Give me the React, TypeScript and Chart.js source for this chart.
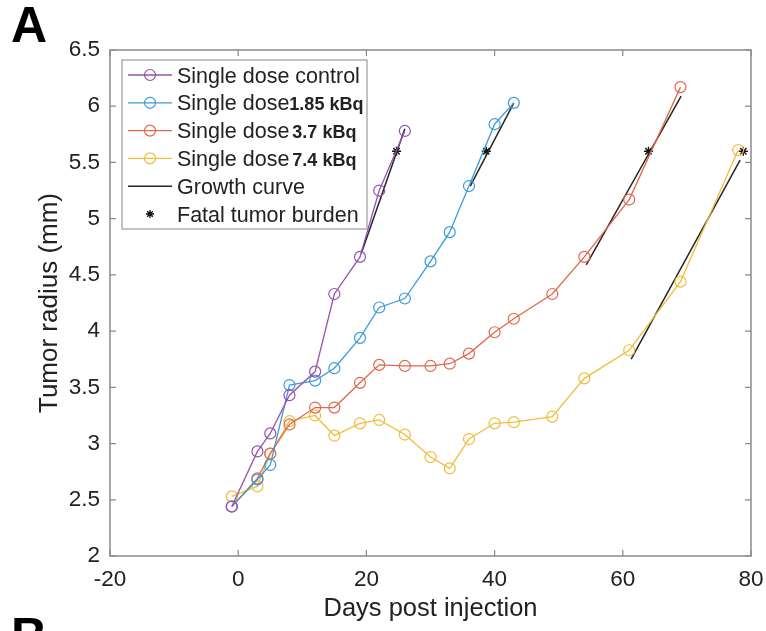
import React, { useEffect, useRef } from 'react';
import { Chart, registerables } from 'chart.js';

Chart.register(...registerables);

const FONT = "'Liberation Sans', Arial, Helvetica, sans-serif";

// ---- data ----
const controlDays = [-1, 3, 5, 8, 12, 15, 19, 22, 26];
const controlRadius = [2.44, 2.93, 3.09, 3.43, 3.64, 4.33, 4.66, 5.25, 5.78];

const dose185Days = [-1, 3, 5, 8, 12, 15, 19, 22, 26, 30, 33, 36, 40, 43];
const dose185Radius = [2.44, 2.68, 2.81, 3.52, 3.56, 3.67, 3.94, 4.21, 4.29, 4.62, 4.88, 5.29, 5.84, 6.03];

const dose37Days = [-1, 3, 5, 8, 12, 15, 19, 22, 26, 30, 33, 36, 40, 43, 49, 54, 61, 69];
const dose37Radius = [2.44, 2.69, 2.91, 3.17, 3.32, 3.32, 3.54, 3.70, 3.69, 3.69, 3.71, 3.80, 3.99, 4.11, 4.33, 4.66, 5.17, 6.17];

const dose74Days = [-1, 3, 5, 8, 12, 15, 19, 22, 26, 30, 33, 36, 40, 43, 49, 54, 61, 69, 78];
const dose74Radius = [2.53, 2.62, 2.91, 3.20, 3.25, 3.07, 3.18, 3.21, 3.08, 2.88, 2.78, 3.04, 3.18, 3.19, 3.24, 3.58, 3.83, 4.44, 5.61];

const growthControlDays = [19.2, 26];
const growthControlRadius = [4.69, 5.80];
const growth185Days = [36.2, 43];
const growth185Radius = [5.29, 6.03];
const growth37Days = [54.3, 69.1];
const growth37Radius = [4.59, 6.09];
const growth74Days = [61.3, 78.3];
const growth74Radius = [3.75, 5.52];

const fatalDays = [24.7, 38.7, 64, 78.8];
const fatalRadius = [5.6, 5.6, 5.6, 5.6];

const xTickValues = [-20, 0, 20, 40, 60, 80];
const yTickValues = [2, 2.5, 3, 3.5, 4, 4.5, 5, 5.5, 6, 6.5];

const seriesLabels = ['Single dose control', 'Single dose', 'Single dose', 'Single dose', 'Growth curve', 'Fatal tumor burden'];
const doseLabels = ['', '1.85 kBq', '3.7 kBq', '7.4 kBq', '', ''];

const COLORS = ['#9552ad', '#3d9ad9', '#e2674a', '#f0be3a'];
const GROWTH_COLOR = '#262626';
const AXIS_COLOR = '#8a8a8a';
const TEXT_COLOR = '#222222';

const toPoints = (xs: number[], ys: number[]) => xs.map((x, i) => ({ x, y: ys[i] }));

const seriesStyle = (color: string) => ({
  borderColor: color,
  backgroundColor: 'transparent',
  pointBackgroundColor: 'transparent',
  pointBorderColor: color,
  pointRadius: 5.5,
  pointBorderWidth: 1.2,
  borderWidth: 1.3,
  tension: 0,
});

const growthStyle = {
  borderColor: GROWTH_COLOR,
  backgroundColor: 'transparent',
  borderWidth: 1.5,
  pointRadius: 0,
  tension: 0,
};

const framePlugin = {
  id: 'matlabFrame',
  afterDraw(chart: any) {
    const { ctx, chartArea, scales } = chart;
    const { left, right, top, bottom } = chartArea;
    const x = scales.x;
    const y = scales.y;
    ctx.save();
    ctx.strokeStyle = AXIS_COLOR;
    ctx.lineWidth = 1.5;
    ctx.strokeRect(left, top, right - left, bottom - top);
    ctx.lineWidth = 1.2;
    const tl = 6;
    ctx.beginPath();
    for (const v of xTickValues) {
      const px = x.getPixelForValue(v);
      ctx.moveTo(px, bottom);
      ctx.lineTo(px, bottom - tl);
      ctx.moveTo(px, top);
      ctx.lineTo(px, top + tl);
    }
    for (const v of yTickValues) {
      const py = y.getPixelForValue(v);
      ctx.moveTo(left, py);
      ctx.lineTo(left + tl, py);
      ctx.moveTo(right, py);
      ctx.lineTo(right - tl, py);
    }
    ctx.stroke();

    // legend box
    const bx = left + 12;
    const by = top + 10;
    const bw = 245;
    const bh = 169;
    ctx.fillStyle = '#ffffff';
    ctx.fillRect(bx, by, bw, bh);
    ctx.strokeStyle = '#9a9a9a';
    ctx.lineWidth = 1.2;
    ctx.strokeRect(bx, by, bw, bh);

    const rowStart = by + 15;
    const rowStep = 27.8;
    for (let i = 0; i < 6; i++) {
      const ry = rowStart + i * rowStep;
      const lx0 = bx + 6;
      const lx1 = bx + 50;
      const mx = bx + 28;
      if (i < 4) {
        ctx.strokeStyle = COLORS[i];
        ctx.lineWidth = 1.3;
        ctx.beginPath();
        ctx.moveTo(lx0, ry);
        ctx.lineTo(lx1, ry);
        ctx.stroke();
        ctx.lineWidth = 1.2;
        ctx.beginPath();
        ctx.arc(mx, ry, 5.5, 0, Math.PI * 2);
        ctx.stroke();
      } else if (i === 4) {
        ctx.strokeStyle = GROWTH_COLOR;
        ctx.lineWidth = 1.5;
        ctx.beginPath();
        ctx.moveTo(lx0, ry);
        ctx.lineTo(lx1, ry);
        ctx.stroke();
      } else {
        ctx.strokeStyle = '#111';
        ctx.lineWidth = 1.3;
        const r = 4;
        ctx.beginPath();
        for (let k = 0; k < 4; k++) {
          const a = (k * Math.PI) / 4;
          ctx.moveTo(mx - r * Math.cos(a), ry - r * Math.sin(a));
          ctx.lineTo(mx + r * Math.cos(a), ry + r * Math.sin(a));
        }
        ctx.stroke();
      }
      const tx = bx + 55;
      const base = ry + 7.5;
      ctx.fillStyle = TEXT_COLOR;
      ctx.textBaseline = 'alphabetic';
      ctx.textAlign = 'left';
      ctx.font = `21.5px ${FONT}`;
      ctx.fillText(seriesLabels[i], tx, base);
      if (doseLabels[i]) {
        const w = ctx.measureText(seriesLabels[i]).width;
        ctx.font = `bold 18px ${FONT}`;
        ctx.fillText(doseLabels[i], tx + w + (i === 1 ? 0 : 3), base);
      }
    }
    ctx.restore();
  },
};

export default function App() {
  const canvasRef = useRef<HTMLCanvasElement | null>(null);

  useEffect(() => {
    if (!canvasRef.current) return;
    const chart = new Chart(canvasRef.current, {
      type: 'line',
      data: {
        datasets: [
          { label: 'Single dose control', data: toPoints(controlDays, controlRadius), ...seriesStyle(COLORS[0]) },
          { label: 'Single dose 1.85 kBq', data: toPoints(dose185Days, dose185Radius), ...seriesStyle(COLORS[1]) },
          { label: 'Single dose 3.7 kBq', data: toPoints(dose37Days, dose37Radius), ...seriesStyle(COLORS[2]) },
          { label: 'Single dose 7.4 kBq', data: toPoints(dose74Days, dose74Radius), ...seriesStyle(COLORS[3]) },
          { label: 'Growth curve', data: toPoints(growthControlDays, growthControlRadius), ...growthStyle },
          { label: 'Growth curve 2', data: toPoints(growth185Days, growth185Radius), ...growthStyle },
          { label: 'Growth curve 3', data: toPoints(growth37Days, growth37Radius), ...growthStyle },
          { label: 'Growth curve 4', data: toPoints(growth74Days, growth74Radius), ...growthStyle },
          {
            label: 'Fatal tumor burden',
            data: toPoints(fatalDays, fatalRadius),
            showLine: false,
            pointStyle: 'star',
            pointRadius: 4.5,
            pointBorderWidth: 1.4,
            pointBorderColor: '#111',
            pointBackgroundColor: '#111',
            borderColor: '#111',
          },
        ] as any,
      },
      options: {
        responsive: false,
        animation: false,
        devicePixelRatio: 1,
        events: [],
        layout: { padding: { left: 0, top: 50, right: 15, bottom: 0 } },
        plugins: { legend: { display: false }, tooltip: { enabled: false }, title: { display: false } },
        scales: {
          x: {
            type: 'linear',
            min: -20,
            max: 80,
            afterBuildTicks: (scale: any) => {
              scale.ticks = xTickValues.map((v) => ({ value: v }));
            },
            afterFit: (scale: any) => {
              scale.height = 75;
              scale.paddingLeft = 0;
              scale.paddingRight = 0;
            },
            grid: { display: false, drawTicks: false },
            border: { display: false },
            ticks: {
              font: { family: FONT, size: 22.5 },
              color: TEXT_COLOR,
              padding: 10,
              maxRotation: 0,
              autoSkip: false,
              callback: (v: any) => String(v),
            },
            title: {
              display: true,
              text: 'Days post injection',
              font: { family: FONT, size: 25.5 },
              color: TEXT_COLOR,
              padding: { top: 0, bottom: 7 },
            },
          },
          y: {
            type: 'linear',
            min: 2,
            max: 6.5,
            afterBuildTicks: (scale: any) => {
              scale.ticks = yTickValues.map((v) => ({ value: v }));
            },
            afterFit: (scale: any) => {
              scale.width = 110;
              scale.paddingTop = 0;
              scale.paddingBottom = 0;
            },
            grid: { display: false, drawTicks: false },
            border: { display: false },
            ticks: {
              font: { family: FONT, size: 22.5 },
              color: TEXT_COLOR,
              padding: 10,
              autoSkip: false,
              callback: (v: any) => String(v),
            },
            title: {
              display: true,
              text: 'Tumor radius (mm)',
              font: { family: FONT, size: 26 },
              color: TEXT_COLOR,
              padding: { top: 34, bottom: 0 },
            },
          },
        },
      } as any,
      plugins: [framePlugin],
    });
    return () => chart.destroy();
  }, []);

  return (
    <div
      style={{
        position: 'fixed',
        left: 0,
        top: 0,
        width: 766,
        height: 631,
        overflow: 'hidden',
        background: '#ffffff',
      }}
    >
      <canvas ref={canvasRef} width={766} height={631} style={{ display: 'block', width: 766, height: 631 }} />
      <div
        style={{
          position: 'absolute',
          left: 11,
          top: 0,
          fontFamily: FONT,
          fontWeight: 'bold',
          fontSize: 50,
          lineHeight: 1,
          color: '#000',
        }}
      >
        A
      </div>
      <div
        style={{
          position: 'absolute',
          left: 11,
          top: 611,
          fontFamily: FONT,
          fontWeight: 'bold',
          fontSize: 50,
          lineHeight: 1,
          color: '#000',
        }}
      >
        B
      </div>
    </div>
  );
}
